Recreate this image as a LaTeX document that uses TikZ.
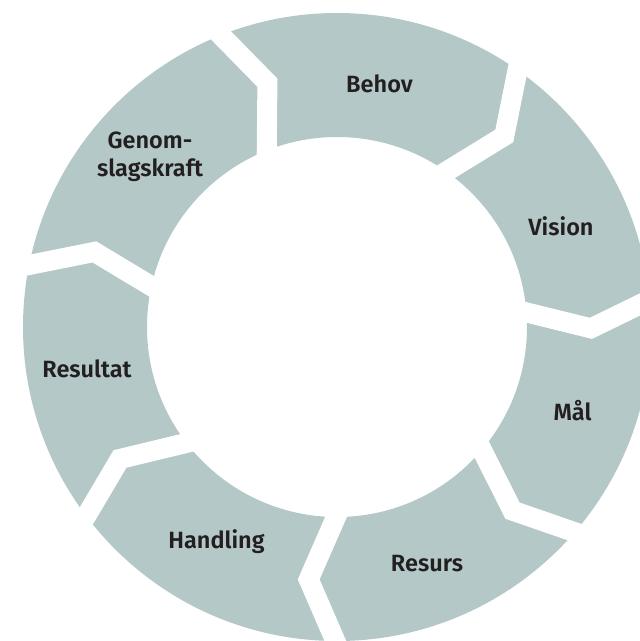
\documentclass[tikz,border=0pt]{standalone}
\usepackage{fontspec}
\setmainfont{Fira Sans}
\newfontfamily\lblfont{Fira Sans SemiBold}
\usetikzlibrary{calc}
\definecolor{segfill}{HTML}{B3C8C7}
\definecolor{txt}{HTML}{231F20}
\tikzset{
  gapline/.style={draw=white,line width=20pt,line join=miter,line cap=butt},
  lbl/.style={font=\lblfont\fontsize{23.5}{28.5}\selectfont,text=txt,inner sep=0pt,anchor=base,align=center},
}
\begin{document}
\begin{tikzpicture}[x=1pt,y=-1pt]
\useasboundingbox (0,0) rectangle (640,641);
\begin{scope}
\clip (0,0) rectangle (640,641);
\coordinate (c) at (337,327);
\fill[segfill,even odd rule] (c) circle[radius=314] (c) circle[radius=190];
% boundaries: inner angle / vertex angle / outer angle (standard, counter-clockwise)
\foreach \ai/\av/\ao in {111.7/105.9/111.7, 54.9/48.8/54.9, 4.4/-0.3/5, -40.3/-46.3/-40.8, -90.3/-96.4/-90.3, -142.4/-148.7/-143, 167.6/162.8/168.6}{
  \coordinate (bi) at ($(c)+(-\ai:190)$);
  \coordinate (bv) at ($(c)+(-\av:254)$);
  \coordinate (bo) at ($(c)+(-\ao:314)$);
  \draw[gapline] ($(bv)!1.6!(bi)$) -- (bv) -- ($(bv)!1.6!(bo)$);
}
\end{scope}
\node[lbl] (behov) at (379.5,92) {Behov};
\node[lbl] (vision) at (561,235) {Vision};
\node[lbl] (mal) at (572.5,420) {Mål};
\node[lbl] (resurs) at (427,571) {Resurs};
\node[lbl] (handling) at (216.5,548) {Handling};
\node[lbl] (resultat) at (87,377) {Resultat};
\node[lbl] (genom) at (150,176.5) {Genom-\\slagskraft};
\end{tikzpicture}
\end{document}
